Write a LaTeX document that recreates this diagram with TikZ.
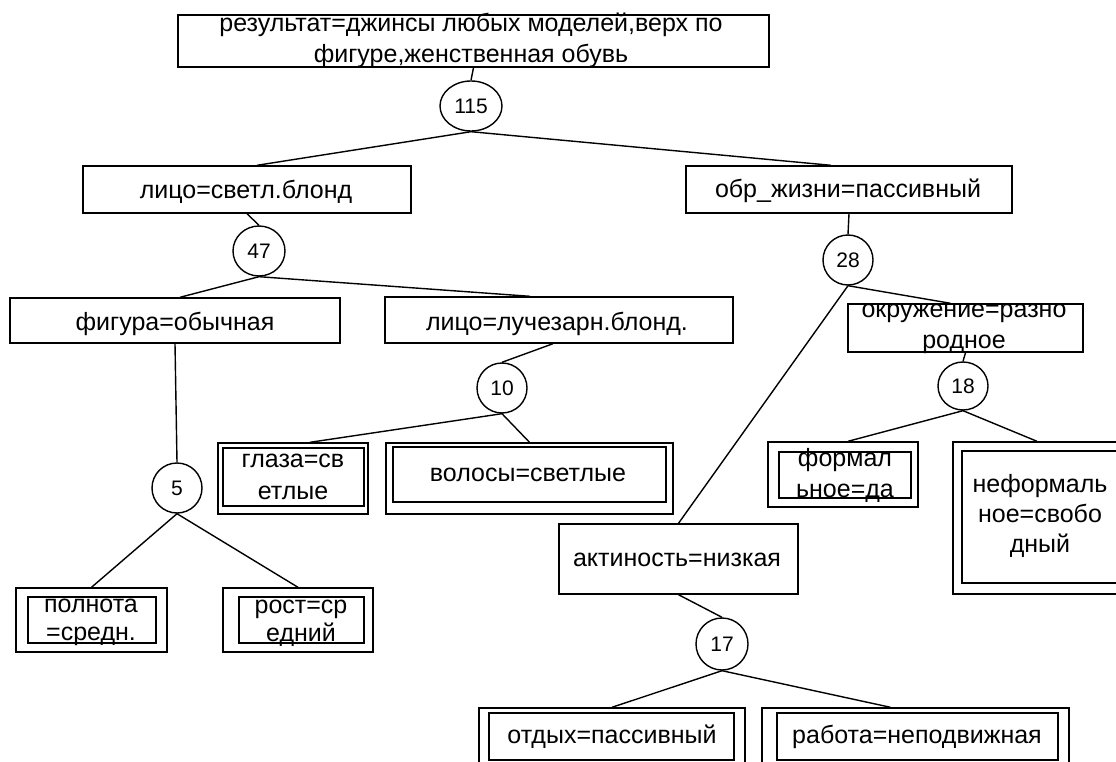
\documentclass[tikz,border=0pt]{standalone}
\usepackage{fontspec}
\setmainfont{Liberation Sans}
\usetikzlibrary{shapes.geometric}
\newcommand{\mlines}[2]{{\fontsize{25}{#1}\selectfont\begin{tabular}[t]{@{}c@{}}#2\end{tabular}}}
\tikzset{
  box/.style={draw, line width=1.4pt, inner sep=0pt, rectangle},
  num/.style={draw, ellipse, line width=1.4pt, inner sep=0pt, font=\fontsize{21}{24}\selectfont},
  txt/.style={anchor=base, inner sep=0pt, font=\fontsize{25}{30}\selectfont},
  edge/.style={line width=1.4pt}
}
\begin{document}
\begin{tikzpicture}[x=1pt,y=-1pt]
\useasboundingbox (0,0) rectangle (1116,762);
% single boxes
\node[box, minimum width=591pt, minimum height=52pt] (top) at (473.5,41) {};
\node[box, minimum width=328pt, minimum height=47pt] (lico) at (247,189.5) {};
\node[box, minimum width=326pt, minimum height=47pt] (obr) at (849,189.5) {};
\node[box, minimum width=330pt, minimum height=45pt] (fig) at (175,320.5) {};
\node[box, minimum width=348pt, minimum height=46pt] (luch) at (559,320) {};
\node[box, minimum width=235pt, minimum height=48pt] (okr) at (965.5,328) {};
\node[box, minimum width=239pt, minimum height=70pt] (akt) at (678.5,559) {};
% double boxes
\node[box, minimum width=150pt, minimum height=71pt] (glaza) at (293,478.5) {};
\node[box, minimum width=141pt, minimum height=58pt] (glazai) at (293.5,477) {};
\node[box, minimum width=287pt, minimum height=71pt] (vol) at (529.5,478.5) {};
\node[box, minimum width=273pt, minimum height=55pt] (voli) at (529.5,474.5) {};
\node[box, minimum width=150pt, minimum height=65pt] (form) at (843,474.5) {};
\node[box, minimum width=132pt, minimum height=46pt] (formi) at (845,475) {};
\node[box, minimum width=174pt, minimum height=152pt] (neform) at (1040,518) {};
\node[box, minimum width=156pt, minimum height=132pt] (neformi) at (1040,517) {};
\node[box, minimum width=151pt, minimum height=64pt] (poln) at (91.5,620) {};
\node[box, minimum width=128pt, minimum height=46pt] (polni) at (92,620) {};
\node[box, minimum width=150pt, minimum height=64pt] (rost) at (298,620) {};
\node[box, minimum width=125pt, minimum height=46pt] (rosti) at (301.5,620) {};
\node[box, minimum width=266pt, minimum height=60pt] (otd) at (612,738) {};
\node[box, minimum width=245pt, minimum height=47pt] (otdi) at (611.5,736.5) {};
\node[box, minimum width=307pt, minimum height=60pt] (rab) at (915.5,738) {};
\node[box, minimum width=281pt, minimum height=47pt] (rabi) at (917.5,736.5) {};
% circles
\node[num, minimum width=62pt, minimum height=50pt] (c115) at (471,106) {115};
\node[num, minimum width=52pt, minimum height=50pt] (c47) at (259,251) {47};
\node[num, minimum width=50pt, minimum height=50pt] (c28) at (848,260) {28};
\node[num, minimum width=50pt, minimum height=50pt] (c10) at (502,388) {10};
\node[num, minimum width=50pt, minimum height=48pt] (c18) at (963,386) {18};
\node[num, minimum width=50pt, minimum height=50pt] (c5) at (177,488) {5};
\node[num, minimum width=52pt, minimum height=52pt] (c17) at (722,644) {17};
% texts
\node[txt] (ttop) at (471,32) {\mlines{31}{результат=джинсы любых моделей,верх по\\фигуре,женственная обувь}};
\node[txt] (tlico) at (246,199) {лицо=светл.блонд};
\node[txt] (tobr) at (848,197) {обр\_жизни=пассивный};
\node[txt] (tfig) at (175,330) {фигура=обычная};
\node[txt] (tluch) at (557,330) {лицо=лучезарн.блонд.};
\node[txt] (tokr) at (964,317) {\mlines{31}{окружение=разно\\родное}};
\node[txt] (takt) at (677,566) {актиность=низкая};
\node[txt] (tglaza) at (293,467) {\mlines{32}{глаза=св\\етлые}};
\node[txt] (tvol) at (528,481) {волосы=светлые};
\node[txt] (tform) at (845,466) {\mlines{31}{формал\\ьное=да}};
\node[txt] (tneform) at (1040,492) {\mlines{30}{неформаль\\ное=свобо\\дный}};
\node[txt] (tpoln) at (91,612) {\mlines{28}{полнота\\=средн.}};
\node[txt] (trost) at (301,613) {\mlines{28}{рост=ср\\едний}};
\node[txt] (totd) at (612,743) {отдых=пассивный};
\node[txt] (trab) at (917,743) {работа=неподвижная};
% connectors
\draw[edge] (top.south) -- (c115.north);
\draw[edge] (c115.south) -- ([xshift=10pt]lico.north);
\draw[edge] (c115.south) -- ([xshift=-18pt]obr.north);
\draw[edge] (lico.south) -- (c47.north);
\draw[edge] (c47.south) -- ([xshift=5pt]fig.north);
\draw[edge] (c47.south) -- ([xshift=-29pt]luch.north);
\draw[edge] (fig.south) -- (c5.north);
\draw[edge] ([xshift=-6pt]luch.south) -- (c10.north);
\draw[edge] (c10.south) -- ([xshift=17pt]glaza.north);
\draw[edge] (c10.south) -- (vol.north);
\draw[edge] (obr.south) -- (c28.north);
\draw[edge] (c28.south) -- (akt.north);
\draw[edge] (c28.south) -- ([xshift=-15pt]okr.north);
\draw[edge] (okr.south) -- (c18.north);
\draw[edge] (c18.south) -- ([xshift=5pt]form.north);
\draw[edge] (c18.south) -- ([xshift=-3pt]neform.north);
\draw[edge] (akt.south) -- (c17.north);
\draw[edge] (c17.south) -- (otd.north);
\draw[edge] (c17.south) -- ([xshift=-25pt]rab.north);
\draw[edge] (c5.south) -- (poln.north);
\draw[edge] (c5.south) -- (rost.north);
\end{tikzpicture}
\end{document}
